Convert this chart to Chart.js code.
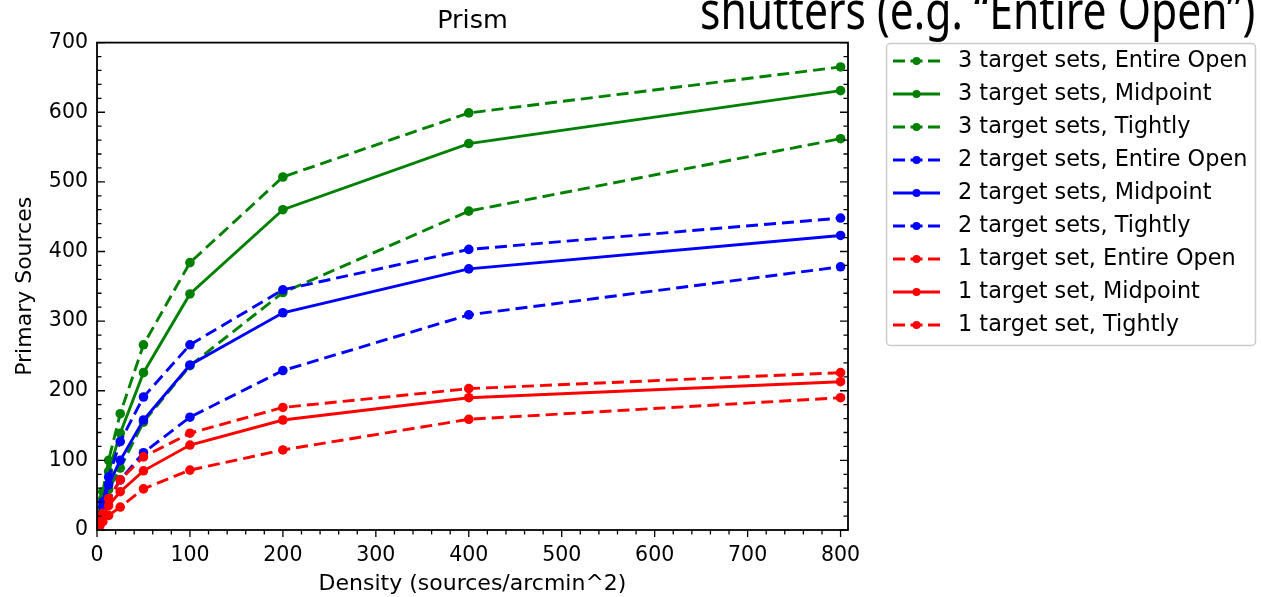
<!DOCTYPE html>
<html>
<head>
<meta charset="utf-8">
<script src="https://cdn.jsdelivr.net/npm/chart.js@4"></script>
<style>
  html, body { margin: 0; padding: 0; background: #fff; }
  #wrap { position: relative; width: 1261px; height: 597px; overflow: hidden; }
  #slideText {
    position: absolute; left: 700px; top: -17px;
    font-family: "Noto Sans"; font-size: 52px; line-height: 52px;
    white-space: nowrap; transform-origin: 0 0; color: #000;
  }
</style>
</head>
<body>
<div id="wrap">
  <canvas id="prismChart" width="1261" height="597"></canvas>
  <div id="slideText">shutters (e.g. “Entire Open”)</div>
</div>
<script>
const density = [3.125, 6.25, 12.5, 25, 50, 100, 200, 400, 800];
const xTicks = [0, 100, 200, 300, 400, 500, 600, 700, 800];
const yTicks = [0, 100, 200, 300, 400, 500, 600, 700];

const labels = [
  "3 target sets, Entire Open",
  "3 target sets, Midpoint",
  "3 target sets, Tightly",
  "2 target sets, Entire Open",
  "2 target sets, Midpoint",
  "2 target sets, Tightly",
  "1 target set, Entire Open",
  "1 target set, Midpoint",
  "1 target set, Tightly",
];

const green3Open = [28, 55, 100, 167, 266, 384, 507, 599, 665];
const green3Mid = [22, 45, 84, 139, 226, 339, 460, 555, 631];
const green3Tight = [16, 32, 58, 89, 155, 236, 341, 458, 562];
const blue2Open = [20, 40, 76, 127, 191, 266, 345, 403, 448];
const blue2Mid = [17, 34, 65, 100, 158, 237, 312, 375, 423];
const blue2Tight = [12, 24, 43, 72, 111, 162, 229, 309, 378];
const red1Open = [12, 24, 45, 72, 105, 139, 176, 203, 226];
const red1Mid = [9, 19, 35, 55, 85, 122, 158, 190, 213];
const red1Tight = [6, 12, 21, 33, 59, 86, 115, 159, 190];

const series = [green3Open, green3Mid, green3Tight, blue2Open, blue2Mid, blue2Tight, red1Open, red1Mid, red1Tight];
const colors = ["#008000", "#008000", "#008000", "#0000ff", "#0000ff", "#0000ff", "#ff0000", "#ff0000", "#ff0000"];
const dashed = [true, false, true, true, false, true, true, false, true];

const font = "DejaVu Sans";

const datasets = series.map((vals, i) => ({
  label: labels[i],
  data: vals.map((v, j) => ({ x: density[j], y: v })),
  borderColor: colors[i],
  backgroundColor: colors[i],
  pointBackgroundColor: colors[i],
  pointBorderWidth: 0,
  pointRadius: 4.8,
  borderWidth: 2.9,
  borderDash: dashed[i] ? [12, 6] : [],
  tension: 0,
  order: series.length - i, // later series on top, like matplotlib
}));

// box around the plot plus the little ticks (y inward on both sides, x outward)
const frameTicks = {
  id: "frameTicks",
  afterDatasetsDraw(chart) {
    const { ctx, chartArea: a, scales: { x, y } } = chart;
    ctx.save();
    ctx.strokeStyle = "#000";
    ctx.lineWidth = 1.8;
    ctx.strokeRect(a.left, a.top, a.right - a.left, a.bottom - a.top);
    ctx.lineWidth = 1.3;
    ctx.beginPath();
    for (let v = 0; v <= 800; v += 20) {
      const px = x.getPixelForValue(v);
      const len = v % 100 === 0 ? 7 : 4.5;
      ctx.moveTo(px, a.bottom);
      ctx.lineTo(px, a.bottom + len);
    }
    for (let v = 0; v <= 700; v += 20) {
      const py = y.getPixelForValue(v);
      const len = v % 100 === 0 ? 8 : 4.5;
      ctx.moveTo(a.left, py);
      ctx.lineTo(a.left + len, py);
      ctx.moveTo(a.right, py);
      ctx.lineTo(a.right - len, py);
    }
    ctx.stroke();
    ctx.restore();
  },
};

// matplotlib style legend (line sample with a dot in the middle), in a rounded box
const boxLegend = {
  id: "boxLegend",
  afterDraw(chart) {
    const ctx = chart.ctx;
    ctx.save();
    ctx.strokeStyle = "#cccccc";
    ctx.lineWidth = 1.5;
    ctx.beginPath();
    ctx.roundRect(886.5, 43.5, 369, 302, 4);
    ctx.stroke();
    chart.data.datasets.forEach((ds, i) => {
      const cy = 61 + i * 33;
      ctx.strokeStyle = ds.borderColor;
      ctx.lineWidth = 2.8;
      ctx.setLineDash(ds.borderDash.length ? [12, 5.5] : []);
      ctx.beginPath();
      ctx.moveTo(893, cy);
      ctx.lineTo(940, cy);
      ctx.stroke();
      ctx.setLineDash([]);
      ctx.fillStyle = ds.borderColor;
      ctx.beginPath();
      ctx.arc(916.5, cy, 4, 0, Math.PI * 2);
      ctx.fill();
      ctx.fillStyle = "#000";
      ctx.font = '22.4px "' + font + '"';
      ctx.textBaseline = "middle";
      ctx.fillText(ds.label, 958, cy);
    });
    ctx.restore();
  },
};

const config = {
  type: "line",
  data: { datasets: datasets },
  plugins: [frameTicks, boxLegend],
  options: {
    responsive: false,
    animation: false,
    events: [],
    layout: { padding: { left: 0, right: 413, top: 0, bottom: 0 } },
    plugins: {
      legend: { display: false },
      tooltip: { enabled: false },
      title: {
        display: true,
        text: "Prism",
        fullSize: false,
        color: "#000",
        font: { family: font, size: 25.5, weight: "normal" },
        padding: { top: 6, bottom: 6 },
      },
    },
    scales: {
      x: {
        type: "linear",
        min: 0,
        max: 808,
        grid: { display: false, drawTicks: false },
        border: { display: false },
        afterBuildTicks: (scale) => { scale.ticks = xTicks.map((v) => ({ value: v })); },
        ticks: {
          padding: 13,
          maxRotation: 0,
          color: "#000",
          font: { family: font, size: 20.5 },
        },
        title: {
          display: true,
          text: "Density (sources/arcmin^2)",
          color: "#000",
          font: { family: font, size: 22 },
          padding: { top: 0, bottom: 0 },
        },
        afterFit: (scale) => { scale.height = 67; },
      },
      y: {
        min: 0,
        max: 700,
        grid: { display: false, drawTicks: false },
        border: { display: false },
        afterBuildTicks: (scale) => { scale.ticks = yTicks.map((v) => ({ value: v })); },
        ticks: {
          padding: 9,
          color: "#000",
          font: { family: font, size: 20.5 },
        },
        title: {
          display: true,
          text: "Primary Sources",
          color: "#000",
          font: { family: font, size: 22 },
          padding: { top: 12, bottom: 0 },
        },
        afterFit: (scale) => { scale.width = 97; },
      },
    },
  },
};

const prismChart = new Chart(document.getElementById("prismChart"), config);

// squeeze the slide caption to the width it has in the slide
const slideText = document.getElementById("slideText");
slideText.style.transform = "scaleX(" + (555 / slideText.offsetWidth) + ")";
</script>
</body>
</html>
